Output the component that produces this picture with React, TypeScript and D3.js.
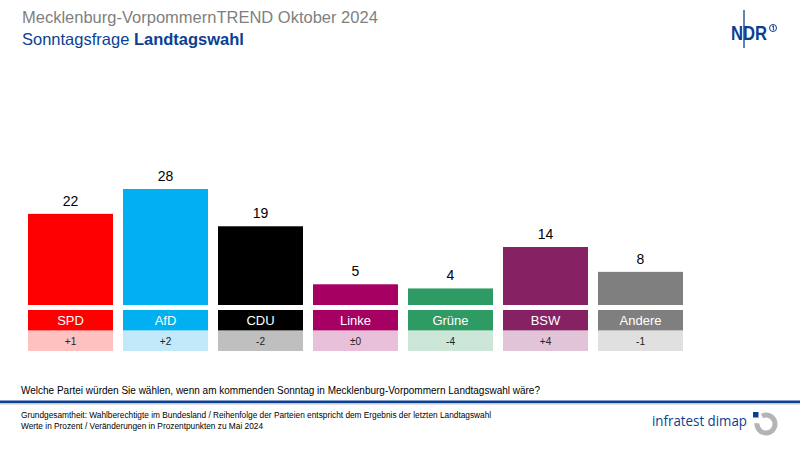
import React from 'react';
import * as d3 from 'd3';

const parties = ['SPD', 'AfD', 'CDU', 'Linke', 'Grüne', 'BSW', 'Andere'];
const values = [22, 28, 19, 5, 4, 14, 8];
const changes = ['+1', '+2', '-2', '±0', '-4', '+4', '-1'];
const colors = ['#ff0000', '#00b0f0', '#000000', '#a50062', '#2e9a64', '#862163', '#7f7f7f'];
const lightColors = ['#ffc0c0', '#c2e9f9', '#bfbfbf', '#e9c0da', '#cce6d8', '#e1c4d8', '#e0e0e0'];

const W = 800;
const H = 450;
const font = 'Arial, "Liberation Sans", sans-serif';
const blue = '#0b3f91';

export default function App() {
  const x = d3.scaleBand<string>()
    .domain(parties)
    .range([23, 688])
    .paddingInner(10 / 95)
    .paddingOuter(5 / 95);

  const y = d3.scaleLinear().domain([0, 28]).range([305, 189]);

  const ring = d3.arc()({ innerRadius: 6.5, outerRadius: 11.5, startAngle: -0.45, endAngle: 4.8 }) || '';

  return (
    <svg width={W} height={H} style={{ position: 'absolute', left: 0, top: 0, fontFamily: font }}>
      <rect width={W} height={H} fill="#fff" />

      {/* titles */}
      <text x={22} y={23} fontSize={16.5} fill="#7f7f7f">Mecklenburg-VorpommernTREND Oktober 2024</text>
      <text x={22} y={45} fontSize={16.5} fill={blue}>
        Sonntagsfrage <tspan fontWeight="bold">Landtagswahl</tspan>
      </text>

      {/* NDR logo */}
      <line x1={744} x2={744} y1={10} y2={48} stroke={blue} strokeWidth={1.3} />
      <text x={731} y={39.5} fontSize={19.5} fontWeight="bold" fill={blue}
        textLength={36} lengthAdjust="spacingAndGlyphs"
        fontFamily='"Liberation Sans Narrow", Arial, sans-serif'>NDR</text>
      <circle cx={773} cy={28} r={3.5} fill="none" stroke={blue} strokeWidth={1} />
      <path d="M772.2,26.6 L773.4,25.8 L773.4,30.2" fill="none" stroke={blue} strokeWidth={1} />

      {/* bars */}
      {parties.map((p, i) => {
        const bx = x(p)!;
        const bw = x.bandwidth();
        return (
          <g key={p}>
            <rect x={bx} y={y(values[i])} width={bw} height={y(0) - y(values[i])} fill={colors[i]} />
            <text x={bx + bw / 2} y={y(values[i]) - 8} fontSize={14} textAnchor="middle" fill="#000">{values[i]}</text>
            <rect x={bx} y={310} width={bw} height={20.5} fill={colors[i]} />
            <text x={bx + bw / 2} y={325} fontSize={13} textAnchor="middle" fill="#fff">{p}</text>
            <rect x={bx} y={331} width={bw} height={20} fill={lightColors[i]} />
            <text x={bx + bw / 2} y={345} fontSize={10} textAnchor="middle" fill="#222">{changes[i]}</text>
          </g>
        );
      })}

      {/* question */}
      <text x={21} y={394} fontSize={10.3} fill="#000" textLength={519} lengthAdjust="spacingAndGlyphs">
        Welche Partei würden Sie wählen, wenn am kommenden Sonntag in Mecklenburg-Vorpommern Landtagswahl wäre?
      </text>
      <rect x={0} y={400.5} width={W} height={2.5} fill={blue} />
      <rect x={0} y={403} width={W} height={1.5} fill="#c8c8c8" />

      {/* footnotes */}
      <text x={21} y={418} fontSize={8.3} fill="#000">
        Grundgesamtheit: Wahlberechtigte im Bundesland / Reihenfolge der Parteien entspricht dem Ergebnis der letzten Landtagswahl
      </text>
      <text x={21} y={428.5} fontSize={8.3} fill="#000">
        Werte in Prozent / Veränderungen in Prozentpunkten zu Mai 2024
      </text>

      {/* infratest dimap logo */}
      <text x={652} y={426} fontSize={15} fill={blue} textLength={95} lengthAdjust="spacingAndGlyphs"
        fontFamily='"Open Sans", Arial, sans-serif'>infratest dimap</text>
      <g transform="translate(766,424)">
        <path d={ring} fill="#b4b4b4" />
        <rect x={-13} y={-12} width={5.5} height={5.5} fill={blue} />
      </g>
    </svg>
  );
}
